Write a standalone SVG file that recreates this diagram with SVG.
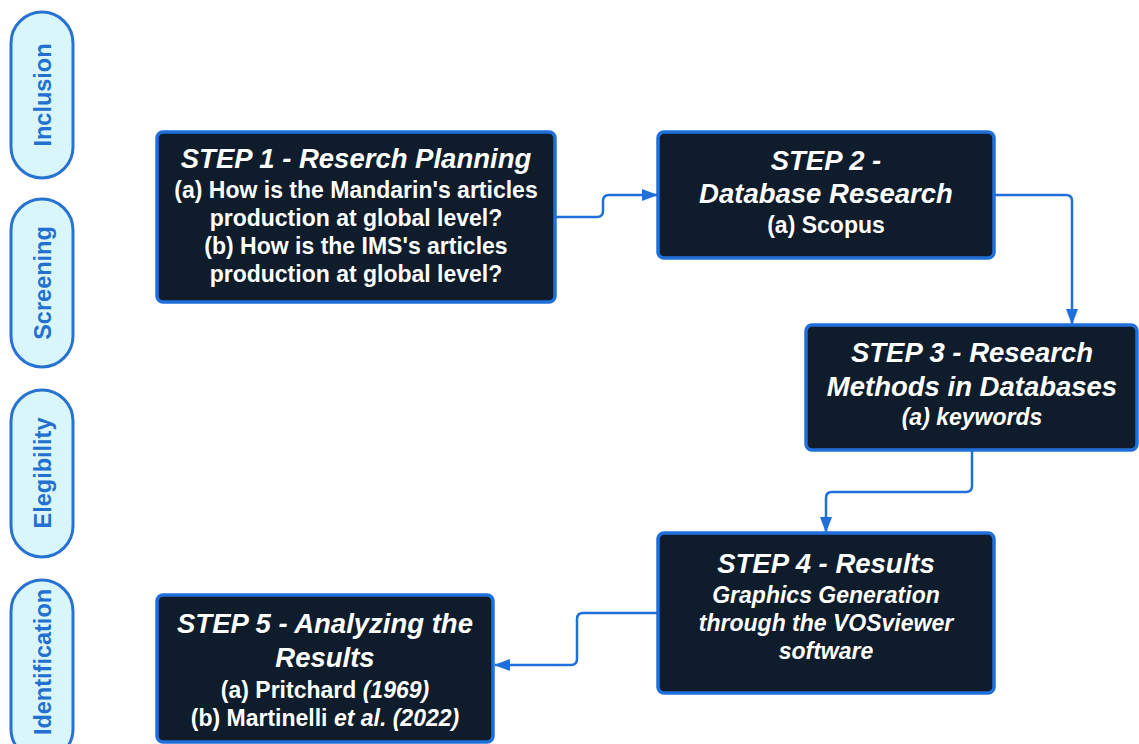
<svg xmlns="http://www.w3.org/2000/svg" width="1139" height="744" viewBox="0 0 1139 744">
<style>
.pill{fill:#d9f6fa;stroke:#2872d2;stroke-width:3}
.ptxt{font-family:"Liberation Sans",Arial,sans-serif;font-weight:bold;font-size:23.5px;fill:#2470d0;text-anchor:middle}
.box{fill:#0e1c2b;stroke:#1f70dc;stroke-width:3.5}
.t{font-family:"Liberation Sans",Arial,sans-serif;font-weight:bold;fill:#ffffff;text-anchor:middle}
.ti{font-style:italic;font-size:27.5px}
.b{font-size:23px}
.bi{font-size:23px;font-style:italic}
.it{font-style:italic}
.con{fill:none;stroke:#1f70dc;stroke-width:2.5;stroke-linejoin:round}
</style>
<defs>
<marker id="arr" markerWidth="16" markerHeight="12" refX="15" refY="6" orient="auto" markerUnits="userSpaceOnUse">
<path d="M0,0 L16,6 L0,12 Z" fill="#1f70dc"/>
</marker>
</defs>
<rect width="1139" height="744" fill="#ffffff"/>
<g id="pill-inclusion">
<rect class="pill" x="11" y="12" width="62" height="166" rx="31"/>
<text class="ptxt" transform="translate(42,95) rotate(-90)" y="8.5">Inclusion</text>
</g>
<g id="pill-screening">
<rect class="pill" x="11" y="199" width="62" height="168" rx="31"/>
<text class="ptxt" transform="translate(42,283) rotate(-90)" y="8.5">Screening</text>
</g>
<g id="pill-elegibility">
<rect class="pill" x="11" y="390" width="62" height="167" rx="31"/>
<text class="ptxt" transform="translate(42,473) rotate(-90)" y="8.5">Elegibility</text>
</g>
<g id="pill-identification">
<rect class="pill" x="11" y="580" width="62" height="180" rx="31"/>
<text class="ptxt" transform="translate(42,662) rotate(-90)" y="8.5">Identification</text>
</g>
<g id="connectors">
<path class="con" d="M555,217 L597,217 Q603,217 603,211 L603,201 Q603,195 609,195 L657,195" marker-end="url(#arr)"/>
<path class="con" d="M994,195 L1066,195 Q1072,195 1072,201 L1072,324" marker-end="url(#arr)"/>
<path class="con" d="M972,450 L972,486 Q972,492 966,492 L832,492 Q826,492 826,498 L826,532" marker-end="url(#arr)"/>
<path class="con" d="M658,613 L583,613 Q577,613 577,619 L577,659 Q577,665 571,665 L495,665" marker-end="url(#arr)"/>
</g>
<g id="step1">
<rect class="box" x="157" y="132" width="398" height="170" rx="6"/>
<text class="t ti" x="356" y="168">STEP 1 - Reserch Planning</text>
<text class="t b" x="356" y="198">(a) How is the Mandarin's articles</text>
<text class="t b" x="356" y="226">production at global level?</text>
<text class="t b" x="356" y="254">(b) How is the IMS's articles</text>
<text class="t b" x="356" y="282">production at global level?</text>
</g>
<g id="step2">
<rect class="box" x="658" y="132" width="336" height="126" rx="6"/>
<text class="t ti" x="826" y="170">STEP 2 -</text>
<text class="t ti" x="826" y="203">Database Research</text>
<text class="t b" x="826" y="233">(a) Scopus</text>
</g>
<g id="step3">
<rect class="box" x="806" y="325" width="331" height="125" rx="6"/>
<text class="t ti" x="972" y="362">STEP 3 - Research</text>
<text class="t ti" x="972" y="396">Methods in Databases</text>
<text class="t bi" x="972" y="425">(a) keywords</text>
</g>
<g id="step4">
<rect class="box" x="658" y="533" width="336" height="160" rx="6"/>
<text class="t ti" x="826" y="573">STEP 4 - Results</text>
<text class="t bi" x="826" y="603">Graphics Generation</text>
<text class="t bi" x="826" y="631">through the VOSviewer</text>
<text class="t bi" x="826" y="659">software</text>
</g>
<g id="step5">
<rect class="box" x="157" y="595" width="336" height="147" rx="6"/>
<text class="t ti" x="325" y="633">STEP 5 - Analyzing the</text>
<text class="t ti" x="325" y="667">Results</text>
<text class="t b" x="325" y="698">(a) Pritchard <tspan class="it">(1969)</tspan></text>
<text class="t b" x="325" y="726">(b) Martinelli <tspan class="it">et al. (2022)</tspan></text>
</g>
</svg>
